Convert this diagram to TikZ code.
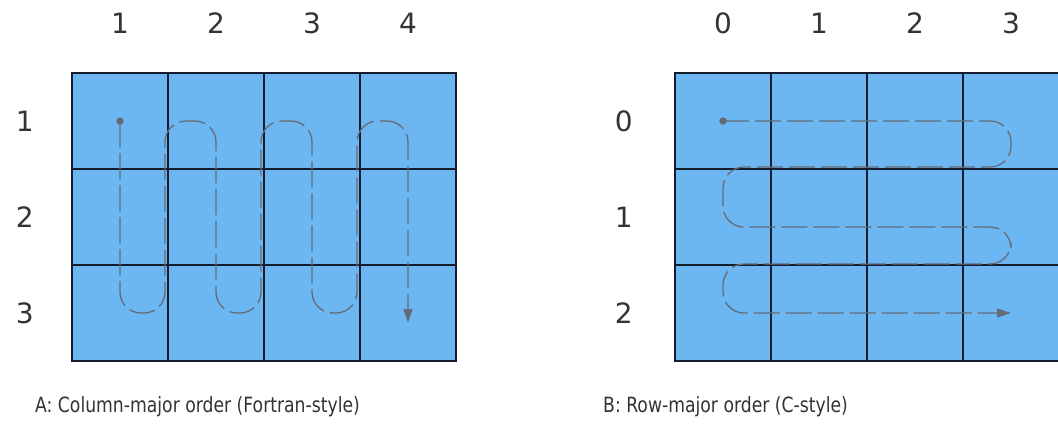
\documentclass[tikz,border=0pt]{standalone}
\usepackage{fontspec}
\setmainfont{DejaVu Sans}
\usepackage{graphicx}
\usepackage{tikz}
\usetikzlibrary{arrows.meta, positioning, calc}

\definecolor{cellblue}{RGB}{108,182,242}
\definecolor{gridline}{RGB}{20,28,45}
\definecolor{trace}{RGB}{100,108,118}

\newcommand{\capttext}[1]{\scalebox{0.82}[1]{#1}}

\begin{document}
\begin{tikzpicture}[
    x=1pt, y=-1pt,
    every node/.style={font=\fontsize{28}{30}\selectfont},
    cell/.style={rectangle, draw=gridline, line width=2pt, fill=cellblue, minimum size=96pt, inner sep=0pt},
    idx/.style={inner sep=0pt, text=black!80},
    caption/.style={inner sep=0pt, anchor=west, text=black!80, font=\fontsize{21}{24}\selectfont},
    dot/.style={circle, fill=trace, minimum size=7.5pt, inner sep=0pt},
    walk/.style={draw=trace, line width=1.3pt, dash pattern=on 26pt off 6pt, rounded corners=21pt, -{Triangle[length=14pt, width=9pt]}}
  ]

  \useasboundingbox (0,0) rectangle (1058,434);

  % A: column-major grid
  \foreach \r in {1,2,3}
    \foreach \c in {1,...,4}
      \node[cell] (L-\r-\c) at ({72+96*(\c-0.5)}, {73+96*(\r-0.5)}) {};
  \foreach \c in {1,...,4}
    \node[idx, above=38pt of L-1-\c] (Lcol-\c) {\c};
  \foreach \r in {1,2,3}
    \node[idx, left=37pt of L-\r-1] (Lrow-\r) {\r};

  % B: row-major grid
  \foreach \r in {1,2,3}
    \foreach \c in {1,...,4}
      \node[cell] (R-\r-\c) at ({675+96*(\c-0.5)}, {73+96*(\r-0.5)}) {};
  \foreach \n [count=\c] in {0,...,3}
    \node[idx, above=38pt of R-1-\c] (Rcol-\c) {\n};
  \foreach \n [count=\r] in {0,1,2}
    \node[idx, left=41pt of R-\r-1] (Rrow-\r) {\n};

  % traversal order
  \node[dot] (Ldot) at (L-1-1.center) {};
  \node[dot] (Rdot) at (R-1-1.center) {};
  \coordinate (Lend) at ($(L-3-4.center)+(0,10)$);
  \coordinate (Rend) at (R-3-4.center);

  \draw[walk] (Ldot.center)
    -- (L-3-1.center)
    -- ($(L-3-1.east)+(-4,0)$) -- ($(L-1-1.east)+(-4,0)$)
    -- (L-1-2.center) -- (L-3-2.center)
    -- ($(L-3-2.east)+(-4,0)$) -- ($(L-1-2.east)+(-4,0)$)
    -- (L-1-3.center) -- (L-3-3.center)
    -- ($(L-3-3.east)+(-4,0)$) -- ($(L-1-3.east)+(-4,0)$)
    -- (L-1-4.center) -- (Lend);

  \draw[walk] (Rdot.center)
    -- (R-1-4.center)
    -- ($(R-1-4.south)+(0,-3)$) -- ($(R-1-1.south)+(0,-3)$)
    -- ($(R-2-1.center)+(0,10)$) -- ($(R-2-4.center)+(0,10)$)
    -- ($(R-2-4.south)+(0,-2)$) -- ($(R-2-1.south)+(0,-2)$)
    -- (R-3-1.center) -- (Rend);

  \node[caption] (capA) at (35,407) {\capttext{A: Column-major order (Fortran-style)}};
  \node[caption] (capB) at (603,407) {\capttext{B: Row-major order (C-style)}};

\end{tikzpicture}
\end{document}
